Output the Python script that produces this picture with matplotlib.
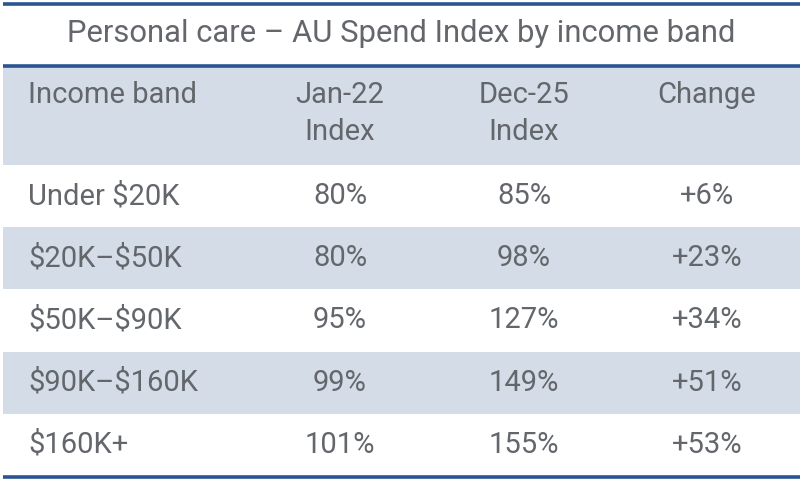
#!/usr/bin/env python3
import matplotlib
matplotlib.use('agg')
import matplotlib.pyplot as plt

title = 'Personal care \u2013 AU Spend Index by income band'
headers = ['Income band', 'Jan-22\nIndex', 'Dec-25\nIndex', 'Change']
bands = ['Under $20K', '$20K\u2013$50K', '$50K\u2013$90K', '$90K\u2013$160K', '$160K+']
jan22 = [80, 80, 95, 99, 101]
dec25 = [85, 98, 127, 149, 155]
change = [6, 23, 34, 51, 53]

plt.rcParams['font.family'] = ['Roboto', 'DejaVu Sans']
plt.rcParams['text.parse_math'] = False
txt = '#63676c'
line_col = '#2b5591'
shade = '#d3dce7'
fs = 21

fig = plt.figure(figsize=(8.03, 4.82), dpi=100)
ax = fig.add_axes([0, 0, 1, 1])
ax.set_xlim(0, 803)
ax.set_ylim(482, 0)
ax.axis('off')

x0, x1 = 3, 800
col_x = [28, 340, 524, 707]
row_top = 165
row_h = 62.2

# title and rules
ax.text(401, 33, title, ha='center', va='center', fontsize=22.3, color=txt)
ax.hlines([3.5, 65.5], x0, x1, color=line_col, lw=2.6)
# header band
ax.fill_between([x0, x1], 67, row_top, color=shade, lw=0)
for i, h in enumerate(headers):
    lines = h.split('\n')
    for k, part in enumerate(lines):
        ax.text(col_x[i], 95 + k * 37, part, ha='left' if i == 0 else 'center',
                va='center', fontsize=fs, color=txt)

for r, band in enumerate(bands):
    top = row_top + r * row_h
    if r % 2 == 1:
        ax.fill_between([x0, x1], top, top + row_h, color=shade, lw=0)
    yc = top + row_h / 2
    ax.text(col_x[0], yc, band, ha='left', va='center', fontsize=fs, color=txt)
    ax.text(col_x[1], yc, f'{jan22[r]}%', ha='center', va='center', fontsize=fs, color=txt)
    ax.text(col_x[2], yc, f'{dec25[r]}%', ha='center', va='center', fontsize=fs, color=txt)
    ax.text(col_x[3], yc, f'+{change[r]}%', ha='center', va='center', fontsize=fs, color=txt)

ax.hlines(row_top + len(bands) * row_h + 1, x0, x1, color=line_col, lw=2.6)

fig.savefig('out.png', dpi=100)
